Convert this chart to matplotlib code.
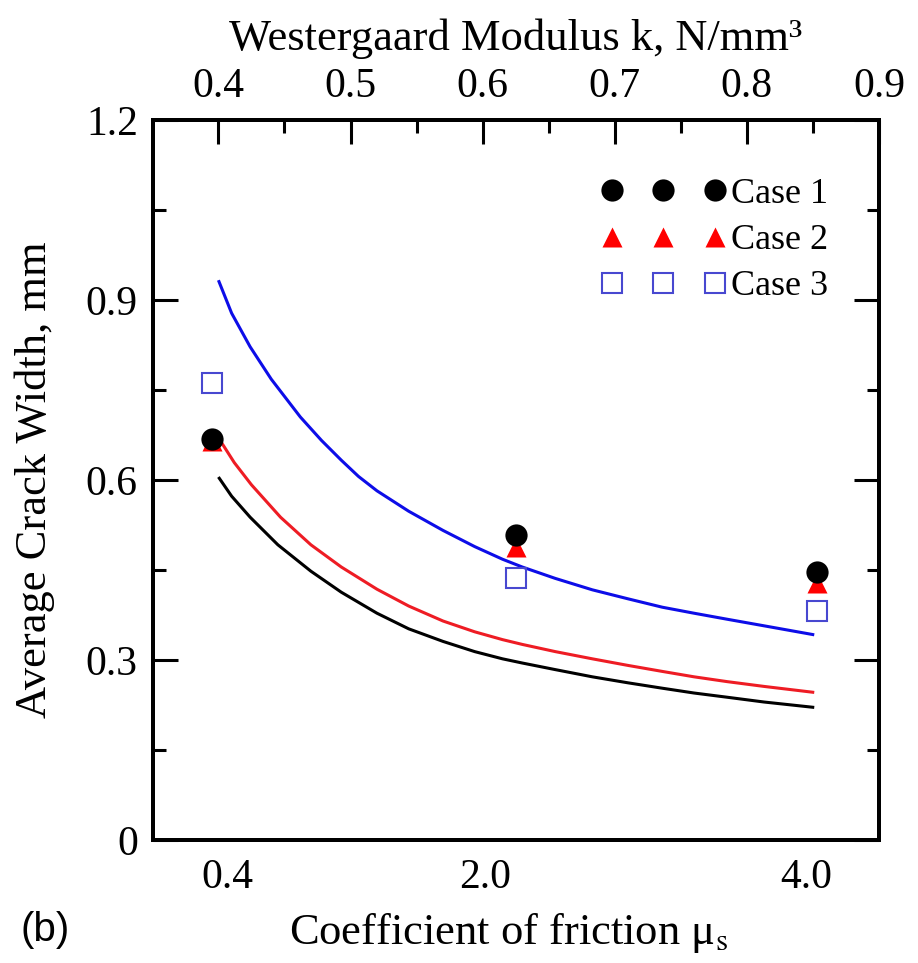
import matplotlib
matplotlib.use("Agg")
import matplotlib.pyplot as plt
from matplotlib.ticker import MultipleLocator

plt.rcParams["font.family"] = ["Liberation Serif", "DejaVu Serif"]
plt.rcParams["mathtext.fontset"] = "stix"

# measured points (x in Westergaard modulus k, N/mm3)
k_pts = [0.395, 0.625, 0.853]
case1 = [0.668, 0.508, 0.447]
case2 = [0.665, 0.489, 0.428]
case3 = [0.762, 0.437, 0.382]

# fitted curves
k_blue = [0.400, 0.410, 0.424, 0.440, 0.462, 0.478, 0.493, 0.506, 0.520, 0.544, 0.570,
          0.594, 0.615, 0.630, 0.655, 0.683, 0.710, 0.736, 0.760, 0.785, 0.813, 0.851]
blue = [0.933, 0.878, 0.822, 0.768, 0.705, 0.666, 0.633, 0.606, 0.582, 0.548, 0.516,
        0.489, 0.468, 0.455, 0.436, 0.417, 0.402, 0.388, 0.378, 0.368, 0.357, 0.342]
k_red = [0.401, 0.412, 0.425, 0.447, 0.470, 0.493, 0.520, 0.544, 0.570, 0.594, 0.615,
         0.630, 0.655, 0.683, 0.710, 0.736, 0.760, 0.785, 0.813, 0.851]
red = [0.667, 0.629, 0.592, 0.538, 0.492, 0.455, 0.418, 0.390, 0.365, 0.347, 0.334,
       0.326, 0.314, 0.302, 0.291, 0.281, 0.272, 0.264, 0.256, 0.246]
k_black = [0.400, 0.410, 0.424, 0.445, 0.470, 0.493, 0.520, 0.544, 0.570, 0.594, 0.615,
           0.630, 0.655, 0.683, 0.710, 0.736, 0.760, 0.785, 0.813, 0.851]
black = [0.605, 0.573, 0.538, 0.492, 0.448, 0.413, 0.378, 0.352, 0.331, 0.314, 0.302,
         0.295, 0.284, 0.272, 0.262, 0.253, 0.245, 0.238, 0.230, 0.221]

mu_pos = [0.4068, 0.6017, 0.845]
mu_labels = ["0.4", "2.0", "4.0"]
k_ticks = [0.4, 0.5, 0.6, 0.7, 0.8, 0.9]

fig = plt.figure(figsize=(9.18, 9.63), dpi=100)
ax = fig.add_axes([0.1667, 0.1277, 0.7908, 0.7477])

line_kw = dict(lw=2.2, zorder=2, solid_joinstyle="round", solid_capstyle="butt")
ax.plot(k_black, black, color="black", **line_kw)
ax.plot(k_red, red, color="#ee1c24", **line_kw)
ax.plot(k_blue, blue, color="#0d0de8", **line_kw)

ax.plot(k_pts, case2, "^", color="#ff0000", ms=15, mec="none", label="Case 2", zorder=3)
ax.plot(k_pts, case1, "o", color="black", ms=16, mec="none", label="Case 1", zorder=4)
ax.plot(k_pts, case3, "s", mfc="none", mec="#4848d0", mew=1.5, ms=15, label="Case 3", zorder=5)

ax.set_xlim(0.3505, 0.9)
ax.set_ylim(0, 1.2)
ax.set_yticks([0, 0.3, 0.6, 0.9, 1.2])
ax.set_yticklabels(["0", "0.3", "0.6", "0.9", "1.2"])
ax.yaxis.set_minor_locator(MultipleLocator(0.15))
ax.set_xticks(mu_pos)
ax.set_xticklabels(mu_labels)

ax.tick_params(axis="x", which="both", length=0, pad=13, labelsize=30)
ax.tick_params(axis="y", which="major", direction="in", length=18, width=2.2,
               right=True, pad=11, labelsize=30)
ax.tick_params(axis="y", which="minor", direction="in", length=9, width=2.2, right=True)
for s in ax.spines.values():
    s.set_linewidth(2.8)

ax.set_ylabel("Average Crack Width, mm", fontsize=32)
ax.yaxis.set_label_coords(-0.135, 0.5)
ax.set_xlabel(r"Coefficient of friction μ$_\mathrm{s}$", fontsize=32)
ax.xaxis.set_label_coords(0.49, -0.098)

top = ax.twiny()
top.set_xlim(ax.get_xlim())
top.set_xticks(k_ticks)
top.set_xticklabels([str(t) for t in k_ticks])
top.xaxis.set_minor_locator(MultipleLocator(0.05))
top.tick_params(which="major", direction="in", length=17, width=2.2, pad=10, labelsize=30)
top.tick_params(which="minor", direction="in", length=9, width=2.2)
top.set_xlabel("Westergaard Modulus k, N/mm³", fontsize=32, labelpad=13)
for s in top.spines.values():
    s.set_linewidth(2.8)

h, l = ax.get_legend_handles_labels()
order = [1, 0, 2]
ax.legend([h[i] for i in order], [l[i] for i in order], numpoints=3, handlelength=3.46,
          handletextpad=0.15, labelspacing=0.36, frameon=False, fontsize=26,
          loc="upper right", bbox_to_anchor=(0.93, 0.92), borderpad=0, borderaxespad=0)

fig.text(0.022, 1 - 930 / 963, "(b)", fontsize=29, family="Liberation Sans", va="center")

fig.savefig("out.png", dpi=100)
